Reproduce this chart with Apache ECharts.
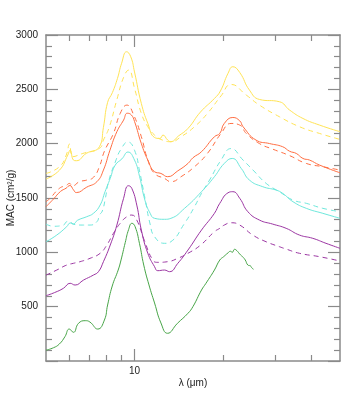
<!DOCTYPE html>
<html>
<head>
<meta charset="utf-8">
<script src="https://cdn.jsdelivr.net/npm/echarts@6/dist/echarts.min.js"></script>
<style>html,body{margin:0;padding:0;background:#fff}#c{width:353px;height:403px}</style>
</head>
<body>
<div id="c"></div>
<script>
// ---- data (λ in µm, MAC in cm²/g) ----
const greenLam = [5.0,5.3,5.55,5.8,6.0,6.2,6.45,6.8,7.05,7.5,7.9,8.1,8.4,8.8,9.0,9.3,9.55,9.8,10.05,10.4,10.75,11.2,11.7,12.3,12.95,14.0,15.2,15.8,16.9,17.5,18.7,19.5,20.1,20.8,21.2,21.5,21.9,22.3,22.8,23.3,23.8,24.3,24.8,25.1,25.4];
const greenMac = [100,122,156,224,294,264,347,371,359,294,377,515,690,837,930,1090,1210,1267,1236,1080,883,700,534,350,255,347,439,500,653,715,837,929,960,995,1010,1000,1028,1015,984,960,930,883,875,855,844];

const purpleLam = [5.0,5.35,5.73,6.04,6.28,6.71,7.25,7.54,7.84,8.27,8.71,9.18,9.54,9.79,10.18,10.55,11.1,11.7,12.0,12.65,13.15,14.04,15.2,16.9,18.7,19.5,20.8,21.6,22.8,24.3,26.6,29.5,32.8,36.4,40.4,44.8,50];
const purpleMac = [601,630,669,715,699,745,791,822,914,1067,1251,1497,1613,1589,1435,1205,991,868,831,837,822,899,1021,1205,1359,1451,1548,1558,1497,1374,1297,1260,1221,1159,1129,1083,1037];
const purpleDashLam = [5.0,5.44,5.88,6.2,6.53,7.06,7.64,8.05,8.48,8.94,9.42,9.79,10.18,10.8,11.54,12.0,12.97,14.04,15.2,16.75,18.7,19.5,20.2,21.3,22.8,25.25,28.05,31.1,32.8,36.4,42.6,50];
const purpleDashMac = [790,837,883,899,914,945,991,1067,1175,1267,1328,1343,1297,1110,929,908,914,945,991,1065,1190,1221,1251,1272,1251,1159,1097,1052,1030,991,960,920];

const cyanLam = [5.0,5.44,5.88,6.05,6.2,6.4,6.88,7.25,7.64,7.94,8.27,8.6,9.06,9.5,10.0,10.4,10.85,11.3,11.7,12.65,13.3,14.8,16.9,18.7,20.2,21.5,23.07,24.6,27.3,30.3,31.9,34.6,38.4,43.7,50];
const cyanMac = [1097,1159,1236,1270,1262,1295,1328,1359,1435,1558,1681,1803,1860,1923,1849,1700,1480,1360,1313,1304,1313,1405,1558,1696,1818,1864,1772,1665,1604,1573,1543,1466,1405,1359,1313];
const cyanDashLam = [5.0,5.3,5.73,5.88,6.01,6.2,6.71,7.06,7.45,7.6,7.77,7.96,8.16,8.6,9.0,9.5,10.0,10.4,10.85,11.3,11.7,12.65,13.3,14.8,16.0,16.9,18.0,19.7,21.3,23.4,25.3,28.05,31.1,34.6,38.4,43.7,50];
const cyanDashMac = [1260,1240,1251,1282,1285,1258,1251,1251,1282,1343,1380,1497,1650,1830,1950,2015,1940,1750,1500,1260,1144,1083,1098,1267,1420,1543,1665,1849,1955,1849,1757,1634,1558,1481,1451,1405,1374];

const orangeLam = [5.0,5.3,5.6,5.85,6.03,6.2,6.34,6.88,7.45,7.84,8.25,8.71,9.18,9.45,9.75,10.0,10.55,11.1,11.7,12.3,12.97,14.04,15.2,15.8,16.9,18.7,19.5,20.2,21.6,22.8,23.4,25.9,28.8,31.9,33.7,35.5,37.4,39.4,42.6,50];
const orangeMac = [1420,1490,1560,1590,1615,1575,1550,1600,1650,1757,1940,2110,2217,2280,2265,2205,2001,1849,1742,1726,1696,1750,1818,1870,1926,2064,2094,2186,2241,2210,2156,2033,2001,1972,1930,1910,1864,1849,1803,1732];
const orangeDashLam = [5.0,5.16,5.56,5.85,6.01,6.15,6.5,6.88,7.25,7.6,7.9,8.48,8.94,9.42,9.95,10.55,11.1,11.7,12.65,13.3,14.4,16.0,17.7,19.7,21.3,22.8,24.0,26.6,29.5,33.7,38.4,43.7,50];
const orangeDashMac = [1466,1497,1590,1615,1634,1612,1650,1665,1690,1790,1930,2094,2278,2355,2260,2064,1849,1726,1680,1650,1696,1788,1910,2094,2186,2171,2094,2001,1950,1890,1818,1788,1757];

const yellowLam = [5.0,5.56,5.93,6.04,6.2,6.34,6.85,7.6,7.84,8.1,8.41,8.75,9.04,9.4,9.71,10.0,10.55,11.1,11.7,12.2,12.5,12.97,13.3,14.1,15.2,16.75,18.7,19.6,20.8,21.6,22.8,24.6,26.6,31.1,33.7,37.4,42.6,50];
const yellowMac = [1674,1757,1895,1941,1849,1843,1910,1972,2150,2380,2470,2600,2740,2846,2800,2660,2370,2186,2057,2048,2079,2033,2018,2070,2140,2290,2416,2485,2647,2708,2655,2493,2407,2386,2309,2232,2171,2110];
const yellowDashLam = [5.0,5.56,5.86,6.01,6.17,6.67,7.6,7.84,8.2,8.7,9.18,9.55,10.0,10.55,11.1,11.7,12.3,13.3,14.4,16.0,17.7,19.7,21.3,24.0,26.6,31.1,36.4,42.6,50];
const yellowDashMac = [1726,1788,1895,1996,1880,1910,1957,2033,2150,2400,2610,2677,2510,2278,2156,2079,2039,2018,2064,2156,2278,2440,2545,2447,2355,2248,2156,2094,2039];

// ---- axis ticks ----
const xMajorTicks = [10];
const xMinorTicks = [6,7,8,9,20,30,40];
const xLabelValues = [10];

const zip = (a, b) => a.map((v, i) => [v, b[i]]);
const AX = '#8a8a8a';
const FONT = 'Liberation Sans';

function line(name, lam, mac, color, dashed) {
  return {
    name, type: 'line', xAxisIndex: 0, yAxisIndex: 0,
    data: zip(lam, mac), showSymbol: false, smooth: 0.5,
    lineStyle: { color, width: 1, type: dashed ? [5, 4] : 'solid' },
    silent: true, animation: false
  };
}

function xAx(pos, major) {
  return {
    type: 'log', logBase: 10, min: 5, max: 50, position: pos,
    name: (pos === 'bottom' && major) ? 'λ (μm)' : '',
    nameLocation: 'middle', nameGap: 17, nameMoveOverlap: false,
    nameTextStyle: { fontSize: 10, color: '#222', fontFamily: FONT },
    axisLine: { show: major, lineStyle: { color: AX, width: 1.5 } },
    axisTick: { show: true, inside: true, length: major ? 12 : 6,
      customValues: major ? xMajorTicks : xMinorTicks,
      lineStyle: { color: AX, width: 1.2 } },
    axisLabel: { show: pos === 'bottom' && major, customValues: xLabelValues, margin: 5,
      fontSize: 10, color: '#222', fontFamily: FONT },
    splitLine: { show: false }, minorTick: { show: false }
  };
}

function yAx(pos) {
  return {
    type: 'value', min: 0, max: 3000, interval: 500, position: pos,
    name: pos === 'left' ? 'MAC (cm²/g)' : '',
    nameLocation: 'middle', nameGap: 30, nameRotate: 90, nameMoveOverlap: false,
    nameTextStyle: { fontSize: 10, color: '#222', fontFamily: FONT },
    axisLine: { show: true, lineStyle: { color: AX, width: 1.5 } },
    axisTick: { show: true, inside: true, length: 12, lineStyle: { color: AX, width: 1.2 } },
    minorTick: { show: true, splitNumber: 5, length: 6, lineStyle: { color: AX, width: 1.2 } },
    axisLabel: { show: pos === 'left', margin: 8, fontSize: 10, color: '#222', fontFamily: FONT,
      formatter: v => (v === 0 ? '' : String(v)) },
    splitLine: { show: false }
  };
}

const chart = echarts.init(document.getElementById('c'), null, { renderer: 'canvas' });
chart.setOption({
  backgroundColor: '#fff',
  animation: false,
  grid: { left: 46, right: 13, top: 35, bottom: 42, containLabel: false, outerBoundsMode: 'none' },
  xAxis: [xAx('bottom', true), xAx('bottom', false), xAx('top', true), xAx('top', false)],
  yAxis: [yAx('left'), yAx('right')],
  series: [
    line('green', greenLam, greenMac, '#47a547', false),
    line('purple', purpleLam, purpleMac, '#9c36a3', false),
    line('purple dashed', purpleDashLam, purpleDashMac, '#9c36a3', true),
    line('cyan', cyanLam, cyanMac, '#6ee8dc', false),
    line('cyan dashed', cyanDashLam, cyanDashMac, '#6ee8dc', true),
    line('orange', orangeLam, orangeMac, '#ff6e42', false),
    line('orange dashed', orangeDashLam, orangeDashMac, '#ff6e42', true),
    line('yellow', yellowLam, yellowMac, '#ffe455', false),
    line('yellow dashed', yellowDashLam, yellowDashMac, '#ffe455', true)
  ]
});
</script>
</body>
</html>
